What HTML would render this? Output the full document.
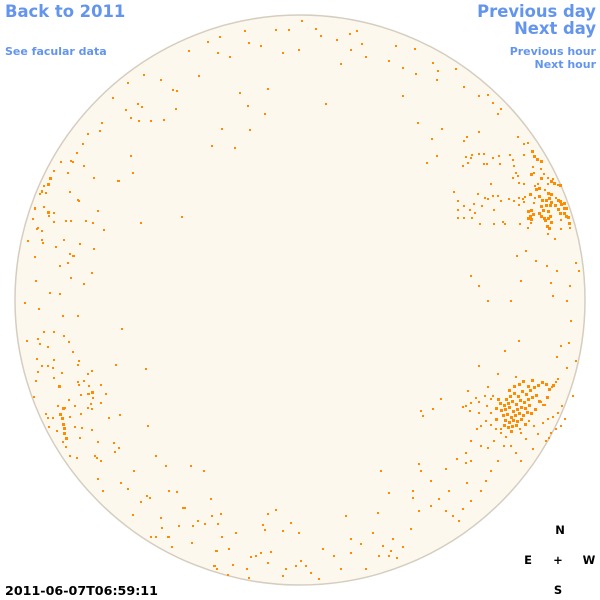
<!DOCTYPE html>
<html><head><meta charset="utf-8"><style>
html,body{margin:0;padding:0;background:#fff;}
svg{display:block;}
.lnk{font-family:"DejaVu Sans","Liberation Sans",sans-serif;font-weight:bold;fill:#6495ed;}
.blk{font-family:"DejaVu Sans","Liberation Sans",sans-serif;font-weight:bold;fill:#000;}
</style></head><body>
<svg width="600" height="600" viewBox="0 0 600 600" xmlns="http://www.w3.org/2000/svg">
<rect width="600" height="600" fill="#fff"/>
<circle cx="300" cy="300" r="285" fill="#fdf8ed" stroke="#d5cdc0" stroke-width="1.5"/>
<g fill="#ff8c00">
<path d="M301 20h2v2h-2zM275 29h2v2h-2zM288 29h2v2h-2zM315 28h2v2h-2zM320 35h2v2h-2zM244 30h2v2h-2zM248 42h2v2h-2zM219 36h2v2h-2zM207 41h2v2h-2zM188 50h2v2h-2zM217 52h2v2h-2zM260 45h2v2h-2zM282 52h2v2h-2zM336 39h2v2h-2zM349 33h2v2h-2zM356 30h2v2h-2zM361 43h2v2h-2zM365 56h2v2h-2zM350 49h2v2h-2zM340 63h2v2h-2zM298 49h2v2h-2zM395 45h2v2h-2zM402 67h2v2h-2zM414 48h2v2h-2zM388 60h2v2h-2zM415 73h2v2h-2zM432 62h2v2h-2zM437 70h2v2h-2zM436 79h2v2h-2zM455 68h2v2h-2zM463 86h2v2h-2zM478 95h2v2h-2zM487 94h2v2h-2zM492 102h2v2h-2zM497 113h2v2h-2zM500 108h2v2h-2zM229 56h2v2h-2zM198 75h2v2h-2zM176 90h2v2h-2zM172 89h2v2h-2zM160 79h2v2h-2zM143 74h2v2h-2zM127 82h2v2h-2zM112 97h2v2h-2zM125 109h2v2h-2zM130 117h2v2h-2zM141 106h2v2h-2zM138 120h2v2h-2zM137 103h2v2h-2zM150 120h2v2h-2zM163 119h2v2h-2zM175 108h2v2h-2zM101 122h2v2h-2zM99 130h2v2h-2zM87 133h2v2h-2zM82 143h2v2h-2zM76 152h2v2h-2zM70 160h2v2h-2zM67 172h2v2h-2zM130 155h2v2h-2zM132 172h2v2h-2zM118 180h2v2h-2zM140 222h2v2h-2zM181 216h2v2h-2zM247 105h2v2h-2zM249 129h2v2h-2zM221 128h2v2h-2zM211 145h2v2h-2zM234 147h2v2h-2zM264 113h2v2h-2zM267 88h2v2h-2zM239 92h2v2h-2zM325 103h2v2h-2zM402 95h2v2h-2zM417 122h2v2h-2zM431 138h2v2h-2zM441 128h2v2h-2zM436 155h2v2h-2zM426 162h2v2h-2zM466 136h2v2h-2zM509 154h2v2h-2z"/>
<path d="M463 140h2v2h-2zM478 131h2v2h-2zM517 136h2v2h-2zM523 143h2v2h-2zM527 142h2v2h-2zM465 156h2v2h-2zM471 154h2v2h-2zM470 157h2v2h-2zM478 153h2v2h-2zM483 153h2v2h-2zM492 157h2v2h-2zM498 155h2v2h-2zM512 159h2v2h-2zM523 154h2v2h-2zM462 165h2v2h-2zM467 162h2v2h-2zM483 163h2v2h-2zM486 163h2v2h-2zM499 163h2v2h-2zM513 165h2v2h-2zM515 172h2v2h-2zM517 175h2v2h-2zM532 166h2v2h-2zM533 172h2v2h-2zM540 168h2v2h-2zM543 173h2v2h-2zM512 177h2v2h-2zM518 182h2v2h-2zM523 183h2v2h-2zM534 185h2v2h-2zM537 183h2v2h-2zM547 177h2v2h-2zM552 178h2v2h-2zM547 183h2v2h-2zM557 184h2v2h-2zM490 183h2v2h-2zM544 189h2v2h-2zM453 191h2v2h-2zM477 193h2v2h-2zM492 195h2v2h-2zM497 195h2v2h-2zM484 197h2v2h-2zM487 198h2v2h-2zM500 200h2v2h-2zM508 198h2v2h-2zM513 200h2v2h-2zM518 197h2v2h-2zM522 198h2v2h-2zM524 196h2v2h-2zM534 197h2v2h-2zM555 197h2v2h-2zM457 200h2v2h-2zM473 203h2v2h-2zM481 205h2v2h-2zM463 205h2v2h-2zM518 204h2v2h-2zM523 201h2v2h-2zM533 202h2v2h-2zM457 209h2v2h-2zM469 209h2v2h-2zM474 212h2v2h-2zM493 209h2v2h-2zM471 217h2v2h-2zM463 217h2v2h-2zM457 217h2v2h-2zM560 219h2v2h-2zM479 223h2v2h-2zM493 223h2v2h-2zM502 221h2v2h-2zM504 223h2v2h-2zM519 223h2v2h-2zM530 222h2v2h-2zM527 227h2v2h-2zM560 228h2v2h-2zM569 227h2v2h-2zM547 233h2v2h-2zM554 238h2v2h-2z"/>
<path d="M531 150h3v3h-3zM533 155h3v3h-3zM536 158h3v3h-3zM540 160h3v3h-3zM530 173h3v3h-3zM540 177h3v3h-3zM550 180h3v3h-3zM553 182h3v3h-3zM559 184h3v3h-3zM535 188h3v3h-3zM538 187h3v3h-3zM547 192h3v3h-3zM550 193h3v3h-3zM529 193h3v3h-3zM538 195h3v3h-3zM541 199h3v3h-3zM545 199h3v3h-3zM548 197h3v3h-3zM550 201h3v3h-3zM557 199h3v3h-3zM559 200h3v3h-3zM560 203h3v3h-3zM563 202h3v3h-3zM565 207h3v3h-3zM540 205h3v3h-3zM545 204h3v3h-3zM549 204h3v3h-3zM554 204h3v3h-3zM557 208h3v3h-3zM563 207h3v3h-3zM542 209h3v3h-3zM547 210h3v3h-3zM527 210h3v3h-3zM530 209h3v3h-3zM559 212h3v3h-3zM563 212h3v3h-3zM529 215h3v3h-3zM532 213h3v3h-3zM538 212h3v3h-3zM540 215h3v3h-3zM543 217h3v3h-3zM547 217h3v3h-3zM549 215h3v3h-3zM565 215h3v3h-3zM567 216h3v3h-3zM527 217h3v3h-3zM530 218h3v3h-3zM544 219h3v3h-3zM568 222h3v3h-3zM550 221h3v3h-3zM546 225h3v3h-3zM548 227h3v3h-3z"/>
<path d="M53 170h2v2h-2zM49 177h3v3h-3zM47 183h3v3h-3zM43 185h2v2h-2zM41 190h2v3h-2zM39 193h2v2h-2zM45 192h2v2h-2zM34 207h2v3h-2zM43 206h2v2h-2zM47 211h3v3h-3zM53 212h2v2h-2zM53 221h2v2h-2zM48 215h2v2h-2zM32 218h2v2h-2zM37 227h2v2h-2zM36 228h2v2h-2zM41 230h2v2h-2zM41 239h2v2h-2zM42 242h2v2h-2zM27 240h2v2h-2zM55 246h2v2h-2zM34 256h2v2h-2zM59 265h2v2h-2zM67 262h2v2h-2zM72 255h2v2h-2zM69 253h2v2h-2zM78 200h2v2h-2zM85 220h2v2h-2zM92 222h2v2h-2zM93 248h2v2h-2zM91 272h2v2h-2zM83 283h2v2h-2zM35 280h2v2h-2zM49 292h2v2h-2zM59 293h2v2h-2zM70 277h2v2h-2zM24 302h2v2h-2zM38 308h2v2h-2zM62 315h2v2h-2zM77 315h2v2h-2zM43 331h2v2h-2zM53 331h2v2h-2zM63 335h2v2h-2zM26 340h2v2h-2zM37 338h2v2h-2zM39 343h2v2h-2zM47 346h2v2h-2zM68 341h2v2h-2zM72 351h2v2h-2zM36 358h2v2h-2zM53 359h2v2h-2zM78 360h2v2h-2zM41 365h2v2h-2zM47 365h2v2h-2zM52 367h2v2h-2zM77 364h2v2h-2zM37 371h2v2h-2zM61 372h2v2h-2zM87 373h2v2h-2zM91 370h2v2h-2zM53 377h2v2h-2zM35 380h2v2h-2zM77 381h2v2h-2zM83 380h2v2h-2zM58 385h3v3h-3zM78 384h2v2h-2zM88 385h2v2h-2zM91 391h3v3h-3zM87 393h3v2h-3zM80 394h2v2h-2zM92 397h2v2h-2zM100 384h2v2h-2zM105 393h2v2h-2zM33 396h2v2h-2zM68 399h2v2h-2zM90 403h2v2h-2zM100 402h2v2h-2zM62 407h3v3h-3zM64 407h2v2h-2zM57 405h2v2h-2zM74 405h2v2h-2zM87 407h2v2h-2zM91 408h2v2h-2zM45 413h2v2h-2zM59 413h3v3h-3zM61 417h3v3h-3zM69 416h2v2h-2zM80 413h2v2h-2zM108 417h2v2h-2zM119 414h2v2h-2zM47 417h2v2h-2zM52 417h2v2h-2zM62 423h3v3h-3zM63 427h3v3h-3zM74 426h2v2h-2zM81 427h2v2h-2zM91 429h2v2h-2zM48 426h2v2h-2zM56 430h2v2h-2zM63 432h3v3h-3zM65 437h3v3h-3zM79 437h2v2h-2zM97 441h2v2h-2zM62 441h2v2h-2zM65 446h2v2h-2zM113 442h2v2h-2zM118 447h2v2h-2zM114 451h2v2h-2zM69 455h2v2h-2zM76 457h2v2h-2zM94 455h2v2h-2zM96 457h2v2h-2zM60 161h2v2h-2zM72 161h2v2h-2zM83 165h2v2h-2zM93 177h2v2h-2zM117 180h2v2h-2zM69 191h2v2h-2zM77 199h2v2h-2zM97 210h2v2h-2zM70 220h2v2h-2zM65 220h2v2h-2zM103 229h2v2h-2zM63 239h2v2h-2zM79 243h2v2h-2zM73 255h2v2h-2z"/>
<path d="M100 460h2v2h-2zM97 478h2v2h-2zM102 490h2v2h-2zM120 482h2v2h-2zM127 488h2v2h-2zM133 470h2v2h-2zM146 495h2v2h-2zM149 497h2v2h-2zM176 491h2v2h-2zM210 498h2v2h-2zM182 507h4v2h-4zM160 517h2v2h-2zM178 525h2v2h-2zM192 525h2v2h-2zM204 523h2v2h-2zM211 515h2v2h-2zM220 513h2v2h-2zM217 523h2v2h-2zM197 520h2v2h-2zM161 527h2v2h-2zM150 536h2v2h-2zM155 536h2v2h-2zM167 536h3v2h-3zM171 546h2v2h-2zM191 542h2v2h-2zM221 536h2v2h-2zM235 532h2v2h-2zM215 550h3v2h-3zM228 548h2v2h-2zM213 565h3v2h-3zM216 568h2v2h-2zM227 574h2v2h-2zM232 564h2v2h-2zM246 568h2v2h-2zM248 577h2v2h-2zM250 556h2v2h-2zM255 555h2v2h-2zM260 552h2v2h-2zM267 562h2v2h-2zM270 551h2v2h-2zM264 529h2v2h-2zM267 513h2v2h-2zM275 509h2v2h-2zM140 501h2v2h-2zM168 490h2v2h-2zM190 465h2v2h-2zM203 470h2v2h-2zM132 514h2v2h-2zM282 530h2v2h-2zM290 522h2v2h-2zM298 532h2v2h-2zM300 560h2v2h-2zM305 565h2v2h-2zM310 572h2v2h-2zM318 578h2v2h-2zM282 575h2v2h-2zM285 568h2v2h-2zM295 565h2v2h-2zM322 548h2v2h-2zM333 555h2v2h-2zM340 568h2v2h-2zM350 538h2v2h-2zM360 543h2v2h-2zM372 532h2v2h-2zM382 545h2v2h-2zM378 555h2v2h-2zM388 555h2v2h-2zM396 557h2v2h-2zM402 546h2v2h-2zM392 538h2v2h-2zM410 528h2v2h-2zM412 497h2v2h-2zM418 510h2v2h-2zM430 505h2v2h-2zM438 498h2v2h-2zM445 510h2v2h-2zM452 515h2v2h-2zM458 520h2v2h-2zM462 508h2v2h-2zM470 500h2v2h-2zM480 490h2v2h-2zM485 480h2v2h-2zM490 470h2v2h-2zM497 460h2v2h-2zM503 445h2v2h-2zM456 458h2v2h-2zM445 468h2v2h-2zM418 463h2v2h-2zM412 490h2v2h-2zM388 492h2v2h-2zM380 470h2v2h-2zM390 550h2v2h-2zM350 552h2v2h-2zM365 568h2v2h-2zM262 524h2v2h-2zM345 515h2v2h-2zM377 512h2v2h-2zM448 490h2v2h-2zM465 462h2v2h-2zM466 482h2v2h-2zM430 480h2v2h-2zM420 470h2v2h-2zM165 465h2v2h-2zM155 455h2v2h-2zM147 425h2v2h-2zM145 368h2v2h-2zM121 328h2v2h-2zM115 364h2v2h-2z"/>
<path d="M575 262h2v2h-2zM578 270h2v2h-2zM569 285h2v2h-2zM566 300h2v2h-2zM570 320h2v2h-2zM568 342h2v2h-2zM575 360h2v2h-2zM556 356h2v2h-2zM552 295h2v2h-2zM550 282h2v2h-2zM556 270h2v2h-2zM546 265h2v2h-2zM535 260h2v2h-2zM525 250h2v2h-2zM516 255h2v2h-2zM520 280h2v2h-2zM510 300h2v2h-2zM518 340h2v2h-2zM504 350h2v2h-2zM487 300h2v2h-2zM478 285h2v2h-2zM470 275h2v2h-2zM566 367h2v2h-2zM560 345h2v2h-2zM420 410h2v2h-2zM422 415h2v2h-2zM432 408h2v2h-2zM440 398h2v2h-2zM462 406h2v2h-2zM467 390h2v2h-2zM470 440h2v2h-2zM480 425h2v2h-2zM478 365h2v2h-2zM497 373h2v2h-2zM515 376h2v2h-2zM487 386h2v2h-2zM484 395h2v2h-2zM475 397h2v2h-2zM470 402h2v2h-2zM465 405h2v2h-2zM469 410h2v2h-2zM478 401h2v2h-2zM490 398h2v2h-2zM478 412h2v2h-2zM476 428h2v2h-2zM490 424h2v2h-2zM495 428h2v2h-2zM500 432h2v2h-2zM505 436h2v2h-2zM520 432h2v2h-2zM525 438h2v2h-2zM533 425h2v2h-2zM542 422h2v2h-2zM547 418h2v2h-2zM552 416h2v2h-2zM557 412h2v2h-2zM561 405h2v2h-2zM555 428h2v2h-2zM550 432h2v2h-2zM545 440h2v2h-2zM537 433h2v2h-2zM493 440h2v2h-2zM487 447h2v2h-2zM465 452h2v2h-2zM470 460h2v2h-2zM480 445h2v2h-2zM510 445h2v2h-2zM515 452h2v2h-2zM520 460h2v2h-2zM532 448h2v2h-2zM548 437h2v2h-2zM560 425h2v2h-2zM564 418h2v2h-2zM572 395h2v2h-2zM557 378h2v2h-2zM555 381h2v2h-2zM551 386h2v2h-2zM544 404h2v2h-2zM540 401h2v2h-2z"/>
<path d="M505 398h3v3h-3zM509 395h3v3h-3zM513 392h3v3h-3zM517 395h3v3h-3zM521 390h3v3h-3zM525 393h3v3h-3zM529 389h3v3h-3zM533 386h3v3h-3zM537 384h3v3h-3zM541 381h3v3h-3zM545 383h3v3h-3zM503 404h3v3h-3zM507 402h3v3h-3zM511 400h3v3h-3zM515 403h3v3h-3zM519 399h3v3h-3zM523 401h3v3h-3zM527 398h3v3h-3zM531 396h3v3h-3zM535 394h3v3h-3zM500 409h3v3h-3zM504 408h3v3h-3zM508 406h3v3h-3zM512 410h3v3h-3zM516 408h3v3h-3zM520 406h3v3h-3zM524 407h3v3h-3zM528 404h3v3h-3zM502 414h3v3h-3zM506 413h3v3h-3zM510 416h3v3h-3zM514 414h3v3h-3zM518 412h3v3h-3zM522 414h3v3h-3zM526 411h3v3h-3zM530 412h3v3h-3zM534 408h3v3h-3zM504 419h3v3h-3zM508 421h3v3h-3zM512 419h3v3h-3zM516 420h3v3h-3zM520 418h3v3h-3zM503 424h3v3h-3zM507 426h3v3h-3zM511 425h3v3h-3zM515 424h3v3h-3zM499 402h3v3h-3zM495 407h3v3h-3zM497 398h3v3h-3zM508 389h3v3h-3zM513 385h3v3h-3zM518 383h3v3h-3zM522 380h3v3h-3zM527 385h3v3h-3zM531 379h3v3h-3zM548 388h3v3h-3zM552 384h3v3h-3zM538 400h3v3h-3zM542 404h2v2h-2zM546 396h3v3h-3zM510 430h3v3h-3zM500 428h2v2h-2zM495 418h3v3h-3zM490 412h2v2h-2zM486 405h2v2h-2zM492 395h2v2h-2zM485 420h2v2h-2zM519 428h2v2h-2zM524 423h3v3h-3zM528 420h2v2h-2z"/>
</g>
<text class="lnk" x="5" y="17" font-size="16.4">Back to 2011</text>
<text class="lnk" x="5" y="55" font-size="11">See facular data</text>
<text class="lnk" x="596" y="17" font-size="16.4" text-anchor="end">Previous day</text>
<text class="lnk" x="596" y="34" font-size="16.4" text-anchor="end">Next day</text>
<text class="lnk" x="596" y="55" font-size="11" text-anchor="end">Previous hour</text>
<text class="lnk" x="596" y="68" font-size="11" text-anchor="end">Next hour</text>
<text class="blk" x="5" y="595" font-size="12.7">2011-06-07T06:59:11</text>
<text class="blk" x="560" y="534" font-size="11.5" text-anchor="middle">N</text>
<text class="blk" x="528" y="564" font-size="11.5" text-anchor="middle">E</text>
<text class="blk" x="558" y="564" font-size="11.5" text-anchor="middle">+</text>
<text class="blk" x="589" y="564" font-size="11.5" text-anchor="middle">W</text>
<text class="blk" x="558" y="594" font-size="11.5" text-anchor="middle">S</text>
</svg>
</body></html>
